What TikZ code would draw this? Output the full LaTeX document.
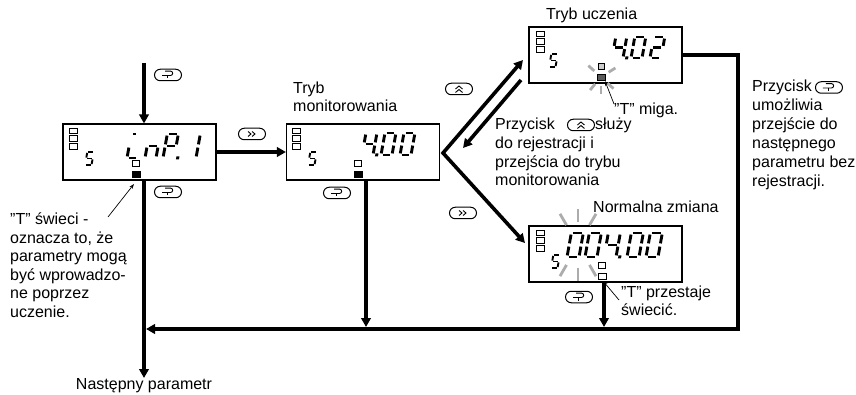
\documentclass[tikz,border=0pt]{standalone}
\usepackage{fontspec}
\setmainfont{Liberation Sans}
\usetikzlibrary{arrows.meta,shapes.misc}

\newcommand{\zsega}{\draw[seg] (\zg,-\zh) -- (\zw-\zg,-\zh);}
\newcommand{\zsegb}{\draw[seg] (\zw,{-(\zh-\zg)}) -- (\zw,{-(\zh/2+\zg)});}
\newcommand{\zsegc}{\draw[seg] (\zw,{-(\zh/2-\zg)}) -- (\zw,-\zg);}
\newcommand{\zsegd}{\draw[seg] (\zg,0) -- (\zw-\zg,0);}
\newcommand{\zsege}{\draw[seg] (0,-\zg) -- (0,{-(\zh/2-\zg)});}
\newcommand{\zsegf}{\draw[seg] (0,{-(\zh/2+\zg)}) -- (0,{-(\zh-\zg)});}
\newcommand{\zsegg}{\draw[seg] (\zg,{-\zh/2}) -- (\zw-\zg,{-\zh/2});}
\newcommand{\zsegi}{\draw[seg] (\zg,-\zh) -- ({\zw*0.45},-\zh);}
\newcommand{\zsegp}{\fill (\zw+2.2,1.5) rectangle ++(3,-3);}
\newcommand{\sevenseg}[3]{\begin{scope}[shift={(#1,#2)},xslant=0.18]\foreach \q in {#3}{\csname zseg\q\endcsname}\end{scope}}
\newcommand{\lsq}[2]{\foreach \k in {0,1,2}{\draw[sqr] (#1,{#2+7.6*\k}) rectangle ++(8,5.7);}}

\begin{document}
\begin{tikzpicture}[x=1pt,y=-1pt,
  disp/.style={draw, line width=1.1pt, minimum width=153pt, minimum height=56pt, inner sep=0pt},
  arr/.style={line width=3.6pt, -{Triangle[length=9pt,width=9.5pt]}},
  lead/.style={line width=0.7pt, -{Stealth[length=5pt,width=3.5pt]}},
  seg/.style={line width=2.9pt},
  sqr/.style={line width=0.7pt},
  ray/.style={draw=gray!65, line width=2.8pt},
  txt/.style={font=\fontsize{16}{18.5}\selectfont, inner sep=0pt, align=left},
  btn/.style={draw, rounded rectangle, minimum width=27pt, minimum height=11.5pt, inner sep=0pt, line width=1pt},
  modebtn/.style={btn, path picture={
     \begin{scope}[shift={(path picture bounding box.center)}, line width=0.9pt]
       \draw (-6,0.5) -- (2.5,0.5) arc[start angle=-90,end angle=90,radius=2.2pt] -- (-3,-3.9);
       \draw (-1,0.5) -- (-1,3.5);
     \end{scope}}},
  ffbtn/.style={btn, path picture={
     \begin{scope}[shift={(path picture bounding box.center)}, line width=0.9pt]
       \draw (-4,-2.5) -- (-1,0) -- (-4,2.5);
       \draw (0,-2.5) -- (3,0) -- (0,2.5);
     \end{scope}}},
  upbtn/.style={btn, path picture={
     \begin{scope}[shift={(path picture bounding box.center)}, line width=0.9pt]
       \draw (-3.5,0) -- (0,-3) -- (3.5,0);
       \draw (-3.5,3.5) -- (0,0.5) -- (3.5,3.5);
     \end{scope}}}
]
\useasboundingbox (0,0) rectangle (856,395);

% displays
\node[disp] (d1) at (139.5,152) {};
\node[disp] (d2) at (363,152) {};
\node[disp] (d3) at (605.5,55) {};
\node[disp] (d4) at (605.5,254) {};

% connector points
\coordinate (top) at (144,63);
\coordinate (np) at (144,378);
\coordinate (jl) at (146,329);
\coordinate (rc) at (738,329);
\coordinate (m2) at (366,327);
\coordinate (m4) at (604,327);
\coordinate (v) at (443,153);
\coordinate (ut) at (523,60);
\coordinate (dt) at (525,243);
\coordinate (ra) at (521,80);
\coordinate (rb) at (463,148);

\draw[arr] (top) -- (top |- d1.north);
\draw[arr] (top |- d1.south) -- (np);
\draw[arr] (d1.east) -- (d2.west);
\draw[arr] (m2 |- d2.south) -- (m2);
\draw[arr] (m4 |- d4.south) -- (m4);
\draw[arr] (d3.east) -- (d3.east -| rc) -- (rc) -- (jl);
\draw[line width=3.6pt, line join=miter, {Triangle[length=9pt,width=9.5pt]}-{Triangle[length=9pt,width=9.5pt]}] (ut) -- (v) -- (dt);
\draw[arr] (ra) -- (rb);

% leaders
\coordinate (l1a) at (108,217); \coordinate (l1b) at (134,184);
\draw[lead] (l1a) -- (l1b);
\coordinate (l3a) at (614,104); \coordinate (l3b) at (605,81);
\draw[lead] (l3a) -- (l3b);
\coordinate (l4a) at (619,300); \coordinate (l4b) at (603,281);
\draw[lead] (l4a) -- (l4b);

% flashing rays
\coordinate (c3) at (601,77);
\foreach \a in {138,32,230,270,317} \draw[ray] (c3) ++(\a:9pt) -- ++(\a:8pt);
\coordinate (c4) at (578,245);
\foreach \a in {60,90,120,240,270,300} \draw[ray] (c4) ++(\a:23pt) -- ++(\a:13pt);

% buttons
\node[modebtn] (b1) at (168,75) {};
\node[ffbtn] (b2) at (252,134) {};
\node[modebtn] (b3) at (168,192) {};
\node[modebtn] (b4) at (337,193) {};
\node[upbtn] (b5) at (459,89) {};
\node[ffbtn] (b6) at (463,213) {};
\node[modebtn] (b9) at (579,297) {};

% left squares
\lsq{69}{128}
\lsq{292.5}{128}
\lsq{536}{31}
\lsq{536}{230}

% indicator squares
\draw[sqr] (132,160) rectangle ++(7.5,6.2);
\draw[sqr,fill=black] (132,171) rectangle ++(8,6.5);
\draw[sqr] (354,160) rectangle ++(7.5,6.2);
\draw[sqr,fill=black] (354,171) rectangle ++(8,6.5);
\draw[sqr,fill=gray!40] (598.5,63.5) rectangle ++(6,6);
\draw[sqr,fill=black!65] (597.5,74) rectangle ++(8,6.5);
\draw[sqr] (598,262) rectangle ++(7.5,6.2);
\draw[sqr] (598,273) rectangle ++(8,6.5);

% small "5"
\begin{scope}[seg/.style={line width=1.9pt}]
\def\zw{6.5}\def\zh{13}\def\zg{0.9}
\sevenseg{85}{165}{a,f,g,c,d}
\sevenseg{308}{165}{a,f,g,c,d}
\sevenseg{549}{67}{a,f,g,c,d}
\sevenseg{551}{268}{a,f,g,c,d}
\end{scope}

% main digits
\def\zw{11}\def\zh{24}\def\zg{1.6}
\sevenseg{127}{158}{i,e,d}
\sevenseg{145}{158}{c,e,g}
\sevenseg{163}{158}{a,b,e,f,g,p}
\sevenseg{185}{158}{b,c}
\def\zh{22}
\sevenseg{362}{155}{b,c,f,g,p}
\sevenseg{381}{155}{a,b,c,d,e,f}
\sevenseg{400}{155}{a,b,c,d,e,f}
\def\zh{21}
\sevenseg{612}{58}{b,c,f,g,p}
\sevenseg{631}{58}{a,b,c,d,e,f}
\sevenseg{650}{58}{a,b,g,e,d}
\def\zw{12}\def\zh{24}
\sevenseg{567}{257}{a,b,c,d,e,f}
\sevenseg{585}{257}{a,b,c,d,e,f}
\sevenseg{604}{257}{b,c,f,g,p}
\sevenseg{627}{257}{a,b,c,d,e,f}
\sevenseg{646}{257}{a,b,c,d,e,f}

% texts
\node[txt, anchor=base west] (tu) at (546,20) {Tryb uczenia};
\node[txt, anchor=north west] (tm) at (293,81.5) {Tryb\\monitorowania};
\node[txt, anchor=base west] (tmg) at (614,115) {”T” miga.};
\node[txt, anchor=base west] (t1) at (495,129.5) {Przycisk};
\node[upbtn, anchor=west] (b7) at ([xshift=12pt,yshift=4.5pt]t1.base east) {};
\node[txt, anchor=base west] (t2) at (b7.east |- t1.base) {służy};
\node[txt, anchor=north west] (t3) at (495,137) {do rejestracji i\\przejścia do trybu\\monitorowania};
\node[txt, anchor=base west] (t4) at (752,92) {Przycisk};
\node[modebtn, anchor=west] (b8) at ([xshift=3pt,yshift=4.5pt]t4.base east) {};
\node[txt, anchor=north west, font=\fontsize{16}{18.8}\selectfont] (t5) at (752,99.2) {umożliwia\\przejście do\\następnego\\parametru bez\\rejestracji.};
\node[txt, anchor=base west] (tnz) at (593,213) {Normalna zmiana};
\node[txt, anchor=north west] (tps) at (621,285.5) {”T” przestaje\\świecić.};
\node[txt, anchor=north west] (tl) at (10,213) {”T” świeci -\\oznacza to, że\\parametry mogą\\być wprowadzo-\\ne poprzez\\uczenie.};
\node[txt, anchor=base] (tnp) at (144,389) {Następny parametr};
\end{tikzpicture}
\end{document}
